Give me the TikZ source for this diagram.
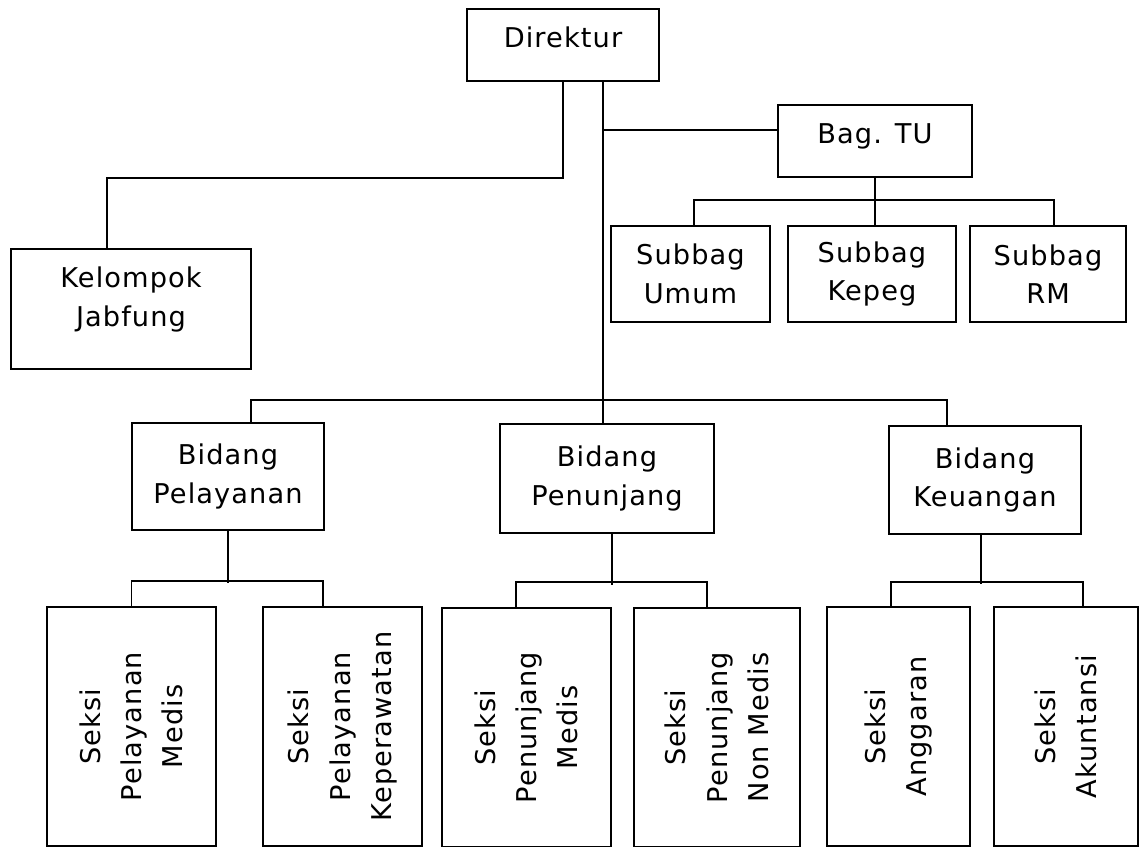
\documentclass[tikz,border=0pt]{standalone}
\usepackage{fontspec}
\setmainfont[LetterSpace=4]{DejaVu Sans}
\usetikzlibrary{positioning, calc}

\begin{document}
\begin{tikzpicture}[x=0.02cm, y=-0.02cm, line width=0.9pt,
		every node/.style={font=\fontsize{15.5pt}{22pt}\selectfont},
		unit/.style={draw, align=center, inner sep=0pt},
		lift/.style={text depth=9pt},
		seksi/.style={unit, rotate=90, minimum width=4.78cm, font=\fontsize{15.5pt}{23.5pt}\selectfont}]
		\useasboundingbox (0,0) rectangle (1142,847);
		% Top level
		\node[unit, lift, minimum width=3.84cm, minimum height=1.44cm] (dir) at (563,45) {Direktur};
		\node[unit, lift, minimum width=3.88cm, minimum height=1.44cm] (tu) at (875,141) {Bag. TU};
		\node[unit, text depth=14pt, minimum width=4.8cm, minimum height=2.4cm] (kel) at (131,309) {Kelompok\\Jabfung};
		% Subbag row
		\node[unit, minimum width=3.18cm, minimum height=1.92cm] (umum) at (690.5,274) {Subbag\\Umum};
		\node[unit, minimum width=3.36cm, minimum height=1.92cm] (kepeg) at (872,274) {Subbag\\Kepeg};
		\node[unit, minimum width=3.12cm, minimum height=1.92cm] (rm) at (1048,274) {Subbag\\RM};
		% Bidang row
		\node[unit, minimum width=3.84cm, minimum height=2.14cm] (bpel) at (228,476.5) {Bidang\\Pelayanan};
		\node[unit, minimum width=4.28cm, minimum height=2.18cm] (bpen) at (607,478.5) {Bidang\\Penunjang};
		\node[unit, minimum width=3.84cm, minimum height=2.16cm] (bkeu) at (985,480) {Bidang\\Keuangan};
		% Seksi row (rotated)
		\node[seksi, minimum height=3.38cm] (spm) at (131.5,726.5) {Seksi\\Pelayanan\\Medis};
		\node[seksi, minimum height=3.18cm] (spk) at (342.5,726.5) {Seksi\\Pelayanan\\Keperawatan};
		\node[seksi, minimum height=3.38cm] (spnm) at (526.5,727.5) {Seksi\\Penunjang\\Medis};
		\node[seksi, minimum height=3.32cm] (spnn) at (717,727.5) {Seksi\\Penunjang\\Non Medis};
		\node[seksi, minimum height=2.86cm] (sang) at (898.5,726.5) {Seksi\\Anggaran};
		\node[seksi, minimum height=2.88cm] (sakt) at (1066,726.5) {Seksi\\Akuntansi};
		% Connectors from Direktur
		\coordinate (trunk) at ([xshift=0.8cm]dir.south);
		\draw (dir.south) -- ++(0,96) -| ([xshift=-0.48cm]kel.north);
		\draw (trunk) -- (trunk |- bpen.north);
		\draw (trunk |- tu.west) ++(0,-11) -- ([yshift=0.22cm]tu.west);
		% Bag. TU branch
		\draw (tu.south) -- (tu.south |- kepeg.north);
		\draw ([xshift=0.07cm]umum.north) -- ++(0,-25) -| ([xshift=0.12cm]rm.north);
		% Bidang bus
		\draw ([xshift=0.46cm]bpel.north) -- ++(0,-22) -| ([xshift=-0.76cm]bkeu.north);
		% Seksi branches
		\draw (bpel.south) -- ++(0,52);
		\draw (spm.east) -- ++(0,-25) -| ([xshift=-0.39cm]spk.east);
		\draw ([xshift=0.1cm]bpen.south) -- ++(0,51);
		\draw ([xshift=-0.21cm]spnm.east) -- ++(0,-25) -| ([xshift=-0.2cm]spnn.east);
		\draw ([xshift=-0.08cm]bkeu.south) -- ++(0,49);
		\draw ([xshift=-0.15cm]sang.east) -- ++(0,-24) -| ([xshift=0.34cm]sakt.east);
	\end{tikzpicture}
\end{document}
